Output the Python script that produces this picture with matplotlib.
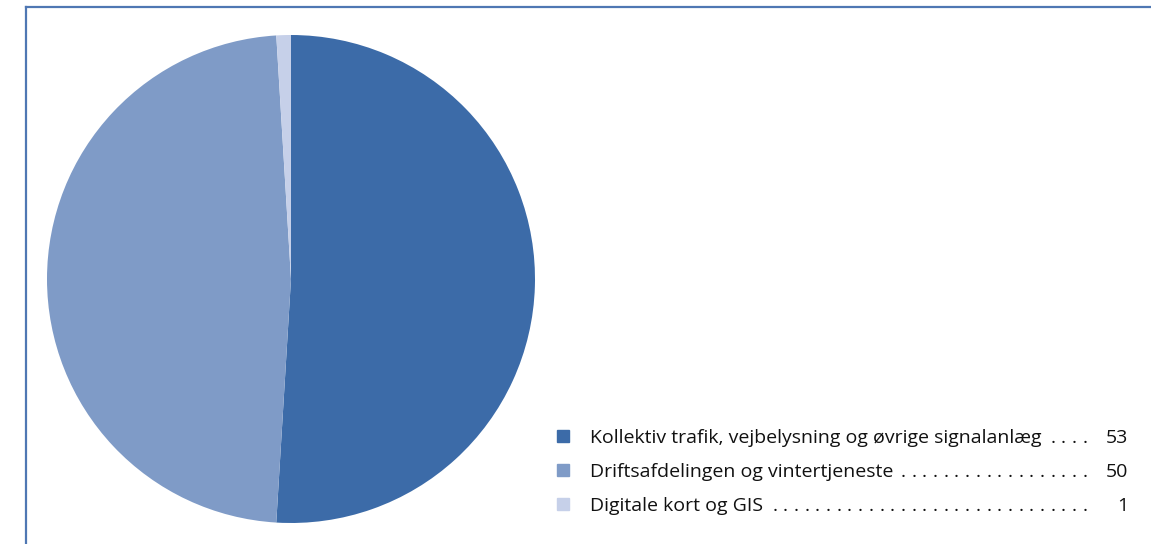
import matplotlib
matplotlib.use("Agg")
import matplotlib.pyplot as plt
from matplotlib.lines import Line2D

labels = [
    "Kollektiv trafik, vejbelysning og øvrige signalanlæg",
    "Driftsafdelingen og vintertjeneste",
    "Digitale kort og GIS",
]
values = [53, 50, 1]
colors = ["#3c6ba8", "#7f9bc7", "#c6d0e9"]

W, H = 1151, 544
fig = plt.figure(figsize=(W / 100, H / 100), dpi=100)

# frame lines (top and left)
frame_color = "#4f77b3"
fig.add_artist(Line2D([26 / W, 1], [1 - 7 / H, 1 - 7 / H], color=frame_color, lw=1.6,
                      transform=fig.transFigure))
fig.add_artist(Line2D([26 / W, 26 / W], [0, 1 - 7 / H], color=frame_color, lw=1.6,
                      transform=fig.transFigure))

# pie
ax = fig.add_axes([47 / W, (H - 523) / H, 488 / W, 488 / H])
ax.pie(values, colors=colors, startangle=90, counterclock=False,
       wedgeprops=dict(linewidth=0))
ax.set_xlim(-1, 1)
ax.set_ylim(-1, 1)
ax.set_aspect("equal")
ax.axis("off")

# legend with dot leaders
font = dict(family="Open Sans", size=14, color="#111111")
baselines = [443, 477, 511]
sq_x, text_x, dots_end, num_x = 557, 590, 1085, 1128
fig.canvas.draw()
renderer = fig.canvas.get_renderer()
for lab, val, col, y in zip(labels, values, colors, baselines):
    yf = 1 - y / H
    fig.patches.append(plt.Rectangle((sq_x / W, 1 - (y - 1) / H), 12 / W, 12 / H,
                                     transform=fig.transFigure, color=col, figure=fig))
    t = fig.text(text_x / W, yf, lab, va="baseline", ha="left", **font)
    bb = t.get_window_extent(renderer)
    x = dots_end
    while x > bb.x1 + 6:
        fig.text(x / W, yf, ".", va="baseline", ha="center", **font)
        x -= 10.7
    fig.text(num_x / W, yf, str(val), va="baseline", ha="right", **font)

fig.savefig("out.png", dpi=100)
